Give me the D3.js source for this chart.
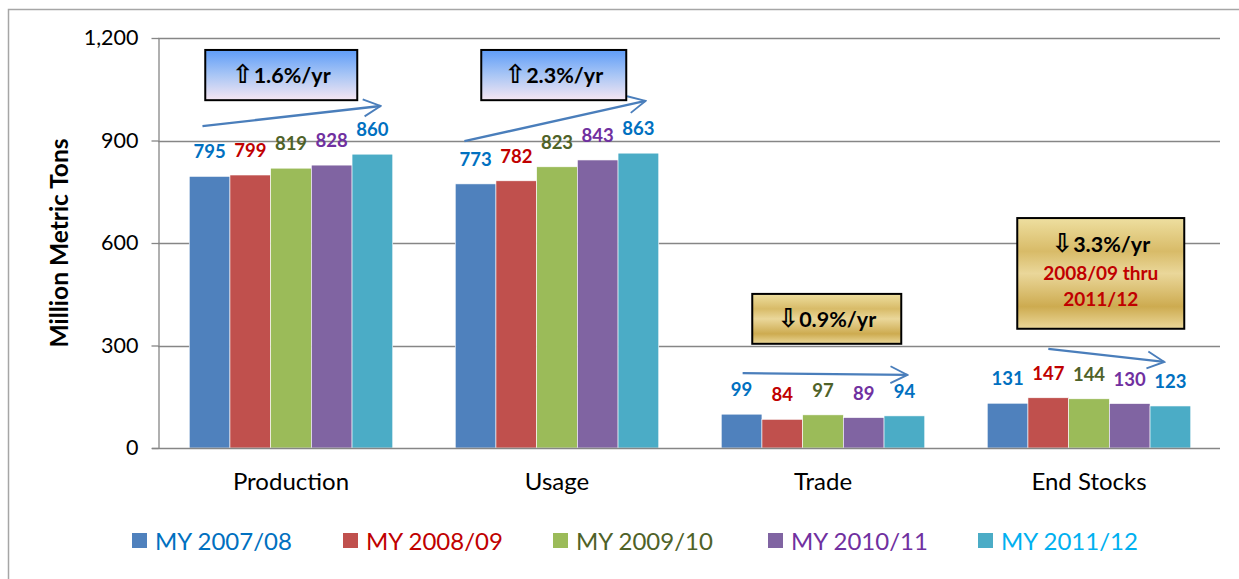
<!DOCTYPE html>
<html lang="en">
<head>
<meta charset="utf-8">
<style>
  body { margin: 0; background: #fff; }
  svg text { font-family: Lato, "Open Sans", sans-serif; }
</style>
</head>
<body>
<svg id="chart" width="1239" height="579"></svg>
<script src="https://cdn.jsdelivr.net/npm/d3@7"></script>
<script>
// data
var categories = ["Production", "Usage", "Trade", "End Stocks"];
var seasons = ["MY 2007/08", "MY 2008/09", "MY 2009/10", "MY 2010/11", "MY 2011/12"];
var values = [
  [795, 799, 819, 828, 860],   // Production
  [773, 782, 823, 843, 863],   // Usage
  [99, 84, 97, 89, 94],        // Trade
  [131, 147, 144, 130, 123]    // End Stocks
];
var yTicks = [0, 300, 600, 900, 1200];
var trendText = ["1.6%/yr", "2.3%/yr", "0.9%/yr", "3.3%/yr"];
var trendUp = [true, true, false, false];
var trendNote = ["", "", "", "2008/09 thru|2011/12"];
// trend arrows: value at start / end
var arrowVals = [[942, 1001], [898, 1016], [219, 214], [290, 252]];

var barColors = ["#4F81BD", "#C0504D", "#9BBB59", "#8064A2", "#4BACC6"];
var labelColors = ["#0070C0", "#C00000", "#4F6228", "#7030A0", "#0070C0"];
var legendColors = ["#0070C0", "#C00000", "#4F6228", "#7030A0", "#00B0F0"];

var svg = d3.select("#chart");

// outer frame
svg.append("path")
  .attr("d", "M8.5,579 V9.5 H1239")
  .attr("fill", "none")
  .attr("stroke", "#a6a6a6")
  .attr("stroke-width", 1.5);

var y = d3.scaleLinear().domain([0, 1200]).range([448, 38]);
var x0 = d3.scaleBand().domain(categories).range([158, 1222]).paddingInner(0.235).paddingOuter(0.1175);
var x1 = d3.scaleBand().domain(d3.range(seasons.length)).range([0, x0.bandwidth()]);

// gradients
var defs = svg.append("defs");
var blue = defs.append("linearGradient").attr("id", "blueGrad").attr("x1", 0).attr("y1", 0).attr("x2", 0).attr("y2", 1);
blue.append("stop").attr("offset", 0).attr("stop-color", "#5E9CF8");
blue.append("stop").attr("offset", 0.5).attr("stop-color", "#A9C6F5");
blue.append("stop").attr("offset", 1).attr("stop-color", "#F6E6F2");
var gold = defs.append("linearGradient").attr("id", "goldGrad").attr("x1", 0).attr("y1", 0).attr("x2", 0).attr("y2", 1);
gold.append("stop").attr("offset", 0).attr("stop-color", "#EEDFA0");
gold.append("stop").attr("offset", 0.3).attr("stop-color", "#D8BB68");
gold.append("stop").attr("offset", 0.5).attr("stop-color", "#EAD79A");
gold.append("stop").attr("offset", 0.8).attr("stop-color", "#CDAB50");
gold.append("stop").attr("offset", 1).attr("stop-color", "#EBD89A");

var arrowMarker = defs.append("marker")
  .attr("id", "openArrow")
  .attr("viewBox", "0 0 12 12")
  .attr("refX", 11).attr("refY", 6)
  .attr("markerWidth", 8.5).attr("markerHeight", 8.5)
  .attr("markerUnits", "strokeWidth")
  .attr("orient", "auto");
arrowMarker.append("path")
  .attr("d", "M1,1 L11,6 L1,11")
  .attr("fill", "none")
  .attr("stroke", "#4A7EBB")
  .attr("stroke-width", 1.1);

// gridlines
svg.append("g")
  .selectAll("line")
  .data(yTicks.slice(1))
  .enter().append("line")
  .attr("x1", 158).attr("x2", 1220)
  .attr("y1", function(d) { return Math.round(y(d)) + 0.5; })
  .attr("y2", function(d) { return Math.round(y(d)) + 0.5; })
  .attr("stroke", "#868686")
  .attr("stroke-width", 1.3);

// y axis
var yAxis = svg.append("g")
  .attr("transform", "translate(158.5,0)")
  .call(d3.axisLeft(y).tickValues(yTicks).tickSize(7).tickSizeOuter(0).tickFormat(d3.format(",")));
yAxis.select(".domain").attr("stroke", "#868686").attr("stroke-width", 1.3);
yAxis.selectAll(".tick line").attr("stroke", "#868686").attr("stroke-width", 1.3);
yAxis.selectAll(".tick text")
  .attr("x", -20)
  .attr("font-size", 21.5)
  .attr("fill", "#000")
  .style("font-family", "Lato, sans-serif");

svg.append("text")
  .attr("transform", "translate(68,243) rotate(-90)")
  .attr("text-anchor", "middle")
  .attr("font-size", 24.5)
  .attr("font-weight", "bold")
  .text("Million Metric Tons");

// bars
var groups = svg.append("g").selectAll("g")
  .data(values)
  .enter().append("g")
  .attr("transform", function(d, i) { return "translate(" + x0(categories[i]) + ",0)"; });

groups.selectAll("rect")
  .data(function(d) { return d; })
  .enter().append("rect")
  .attr("x", function(d, i) { return x1(i); })
  .attr("width", x1.bandwidth())
  .attr("y", function(d) { return y(d); })
  .attr("height", function(d) { return y(0) - y(d); })
  .attr("fill", function(d, i) { return barColors[i]; })
  .attr("stroke", "#fff")
  .attr("stroke-width", 0.6);

groups.selectAll("text")
  .data(function(d) { return d; })
  .enter().append("text")
  .attr("x", function(d, i) { return x1(i) + x1.bandwidth() / 2; })
  .attr("y", function(d) { return y(d) - 18; })
  .attr("text-anchor", "middle")
  .attr("font-size", 18.5)
  .attr("font-weight", "bold")
  .attr("fill", function(d, i) { return labelColors[i]; })
  .text(function(d) { return d; });

// baseline
svg.append("line")
  .attr("x1", 152).attr("x2", 1220)
  .attr("y1", Math.round(y(0)) + 0.5).attr("y2", Math.round(y(0)) + 0.5)
  .attr("stroke", "#868686").attr("stroke-width", 1.3);

// category labels
svg.append("g").selectAll("text")
  .data(categories)
  .enter().append("text")
  .attr("x", function(d) { return x0(d) + x0.bandwidth() / 2; })
  .attr("y", 490)
  .attr("text-anchor", "middle")
  .attr("font-size", 24)
  .attr("fill", "#000")
  .text(function(d) { return d; });

// trend arrows
var arrowX = [[0.065, 0.94], [0.045, 0.935], [0.105, 0.915], [0.30, 0.87]];
svg.append("g").selectAll("line")
  .data(arrowVals)
  .enter().append("line")
  .attr("x1", function(d, i) { return x0(categories[i]) + arrowX[i][0] * x0.bandwidth(); })
  .attr("x2", function(d, i) { return x0(categories[i]) + arrowX[i][1] * x0.bandwidth(); })
  .attr("y1", function(d) { return y(d[0]); })
  .attr("y2", function(d) { return y(d[1]); })
  .attr("stroke", "#4A7EBB")
  .attr("stroke-width", 2.4)
  .attr("marker-end", "url(#openArrow)");

// annotation boxes: [left offset in band, width, top value, bottom value]
var boxPos = [[16, 152, 1165, 1018], [26, 145, 1165, 1018], [31, 149, 451, 305], [30, 167, 673, 349]];
var boxes = svg.append("g").selectAll("g")
  .data(boxPos)
  .enter().append("g");

boxes.append("rect")
  .attr("x", function(d, i) { return x0(categories[i]) + d[0]; })
  .attr("y", function(d) { return y(d[2]); })
  .attr("width", function(d) { return d[1]; })
  .attr("height", function(d) { return y(d[3]) - y(d[2]); })
  .attr("fill", function(d, i) { return trendUp[i] ? "url(#blueGrad)" : "url(#goldGrad)"; })
  .attr("stroke", "#000")
  .attr("stroke-width", 2);

boxes.append("text")
  .attr("x", function(d, i) { return x0(categories[i]) + d[0] + d[1] / 2; })
  .attr("y", function(d, i) { return trendNote[i] ? y(d[2]) + 34 : (y(d[2]) + y(d[3])) / 2 + 8; })
  .attr("text-anchor", "middle")
  .attr("font-size", 21.5)
  .attr("font-weight", "bold")
  .attr("fill", "#000")
  .each(function(d, i) {
    var t = d3.select(this);
    t.append("tspan").style("font-family", "DejaVu Sans").attr("font-size", 26).text(trendUp[i] ? "\u21E7" : "\u21E9");
    t.append("tspan").text(trendText[i]);
  });

boxes.filter(function(d, i) { return trendNote[i] !== ""; })
  .each(function(d) {
    var i = boxPos.indexOf(d);
    var lines = trendNote[i].split("|");
    d3.select(this).selectAll("text.note")
      .data(lines)
      .enter().append("text")
      .attr("class", "note")
      .attr("x", x0(categories[i]) + d[0] + d[1] / 2)
      .attr("y", function(l, j) { return y(d[2]) + 62 + j * 26; })
      .attr("text-anchor", "middle")
      .attr("font-size", 19)
      .attr("font-weight", "bold")
      .attr("fill", "#C00000")
      .text(function(l) { return l; });
  });

// legend
var legendX = [132, 343, 553, 768, 978];
var legend = svg.append("g").selectAll("g")
  .data(seasons)
  .enter().append("g")
  .attr("transform", function(d, i) { return "translate(" + legendX[i] + ",533)"; });
legend.append("rect")
  .attr("width", 15).attr("height", 15)
  .attr("fill", function(d, i) { return barColors[i]; });
legend.append("text")
  .attr("x", 23).attr("y", 17)
  .attr("font-size", 24)
  .attr("fill", function(d, i) { return legendColors[i]; })
  .text(function(d) { return d; });
</script>
</body>
</html>
